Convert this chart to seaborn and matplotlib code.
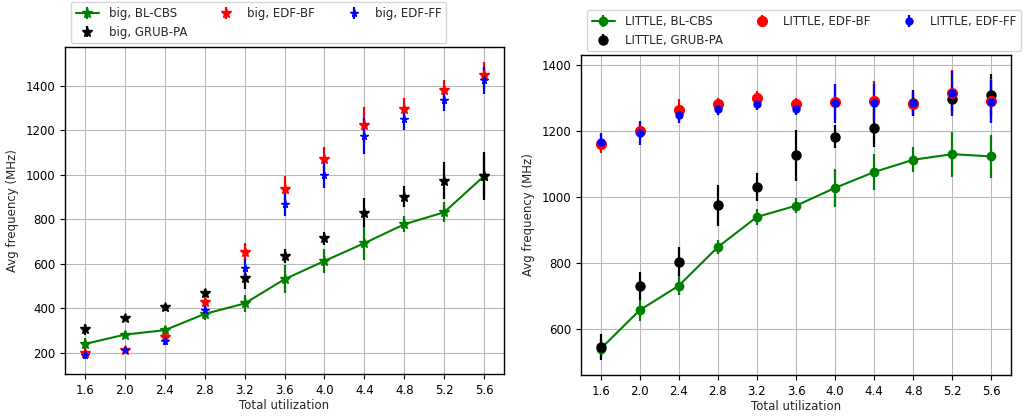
import numpy as np
import pandas as pd
import seaborn as sns
import matplotlib.pyplot as plt

sns.set_style("ticks", {"axes.grid": True, "grid.color": "#b0b0b0",
                        "axes.edgecolor": "black", "xtick.direction": "out",
                        "ytick.direction": "out"})
plt.rcParams['font.family'] = ['DejaVu Sans']
plt.rcParams['font.size'] = 8.5

util = [1.6, 2.0, 2.4, 2.8, 3.2, 3.6, 4.0, 4.4, 4.8, 5.2, 5.6]

# big cluster (mean, error)
big_bl_cbs = [240, 282, 302, 375, 422, 531, 613, 693, 778, 832, 995]
big_bl_cbs_err = [25, 15, 20, 26, 37, 62, 52, 75, 35, 45, 85]
big_grub_pa = [306, 356, 404, 468, 537, 636, 715, 830, 902, 974, 995]
big_grub_pa_err = [25, 12, 15, 20, 48, 30, 30, 65, 47, 82, 110]
big_edf_bf = [199, 215, 273, 430, 655, 937, 1072, 1225, 1296, 1381, 1447]
big_edf_bf_err = [15, 12, 20, 20, 37, 60, 55, 80, 50, 45, 60]
big_edf_ff = [192, 213, 255, 393, 583, 870, 1000, 1175, 1250, 1335, 1425]
big_edf_ff_err = [20, 12, 20, 25, 40, 57, 61, 80, 50, 50, 60]

# LITTLE cluster (mean, error)
little_bl_cbs = [541, 658, 732, 849, 940, 974, 1028, 1076, 1113, 1130, 1123]
little_bl_cbs_err = [30, 32, 29, 20, 25, 22, 58, 55, 38, 68, 65]
little_grub_pa = [546, 731, 805, 975, 1031, 1126, 1183, 1209, 1284, 1297, 1309]
little_grub_pa_err = [40, 42, 44, 61, 43, 78, 35, 57, 40, 40, 64]
little_edf_bf = [1161, 1199, 1264, 1281, 1300, 1281, 1287, 1292, 1283, 1316, 1292]
little_edf_bf_err = [29, 20, 34, 18, 20, 20, 55, 60, 35, 68, 66]
little_edf_ff = [1168, 1194, 1249, 1267, 1281, 1267, 1284, 1284, 1284, 1314, 1289]
little_edf_ff_err = [26, 37, 25, 18, 18, 18, 59, 57, 35, 69, 66]

big = pd.DataFrame({'util': util,
                    'BL-CBS': big_bl_cbs, 'BL-CBS_err': big_bl_cbs_err,
                    'GRUB-PA': big_grub_pa, 'GRUB-PA_err': big_grub_pa_err,
                    'EDF-BF': big_edf_bf, 'EDF-BF_err': big_edf_bf_err,
                    'EDF-FF': big_edf_ff, 'EDF-FF_err': big_edf_ff_err})
little = pd.DataFrame({'util': util,
                       'BL-CBS': little_bl_cbs, 'BL-CBS_err': little_bl_cbs_err,
                       'GRUB-PA': little_grub_pa, 'GRUB-PA_err': little_grub_pa_err,
                       'EDF-BF': little_edf_bf, 'EDF-BF_err': little_edf_bf_err,
                       'EDF-FF': little_edf_ff, 'EDF-FF_err': little_edf_ff_err})

colors = {'BL-CBS': 'g', 'GRUB-PA': 'k', 'EDF-BF': 'r', 'EDF-FF': 'b'}


def draw(ax, df, cluster, marker, sizes):
    for algo in ['BL-CBS', 'GRUB-PA', 'EDF-BF', 'EDF-FF']:
        fmt = '-' + marker if algo == 'BL-CBS' else marker
        ax.errorbar(df['util'], df[algo], yerr=df[algo + '_err'], fmt=fmt,
                    color=colors[algo], ms=sizes[algo], lw=1.5, elinewidth=1.6,
                    label=cluster + ', ' + algo)
    ax.set_xticks(util)
    ax.set_xticklabels(['%.1f' % u for u in util])
    ax.set_xlim(1.4, 5.8)
    ax.set_xlabel("Total utilization", labelpad=2)
    ax.set_ylabel("Avg frequency (MHz)", labelpad=5)
    ax.grid(True, color='#b8b8b8', lw=0.8)
    for s in ax.spines.values():
        s.set_linewidth(1.0)
        s.set_color('black')
    ax.tick_params(length=3.5, width=0.8, colors='black')


fig = plt.figure(figsize=(10.26, 4.18), dpi=100)
ax1 = fig.add_axes([0.0634, 0.1053, 0.4279, 0.7823])
ax2 = fig.add_axes([0.5663, 0.1029, 0.4191, 0.7656])

draw(ax1, big, 'big', '*', {'BL-CBS': 7, 'GRUB-PA': 7, 'EDF-BF': 7, 'EDF-FF': 5.5})
ax1.set_ylim(105, 1575)
ax1.set_yticks([200, 400, 600, 800, 1000, 1200, 1400])

draw(ax2, little, 'LITTLE', 'o', {'BL-CBS': 6, 'GRUB-PA': 6.5, 'EDF-BF': 7, 'EDF-FF': 5})
ax2.set_ylim(462, 1430)
ax2.set_yticks([600, 800, 1000, 1200, 1400])

ax1.legend(loc='upper left', bbox_to_anchor=(0.069, 0.995), bbox_transform=fig.transFigure,
           ncol=3, fontsize=8.5, frameon=True, edgecolor='#cccccc', borderaxespad=0,
           columnspacing=2.3)
ax2.legend(loc='upper left', bbox_to_anchor=(0.572, 0.976), bbox_transform=fig.transFigure,
           ncol=3, fontsize=8.5, frameon=True, edgecolor='#cccccc', borderaxespad=0,
           columnspacing=2.3)

fig.savefig("out.png", dpi=100)
